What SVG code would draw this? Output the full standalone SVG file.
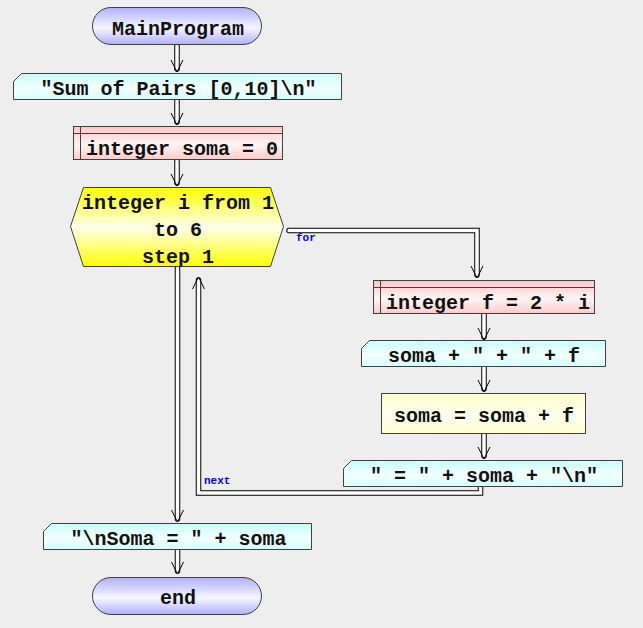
<svg xmlns="http://www.w3.org/2000/svg" width="643" height="628" viewBox="0 0 643 628">
<defs>
<linearGradient id="gTerm" x1="0" y1="0" x2="0" y2="1">
<stop offset="0" stop-color="#b0b0fa"/><stop offset="0.55" stop-color="#f6f6ff"/><stop offset="1" stop-color="#b0b0fa"/>
</linearGradient>
<linearGradient id="gOut" x1="0" y1="0" x2="0" y2="1">
<stop offset="0" stop-color="#c8ffff"/><stop offset="0.55" stop-color="#f2ffff"/><stop offset="1" stop-color="#d4ffff"/>
</linearGradient>
<linearGradient id="gDecl" x1="0" y1="0" x2="0" y2="1">
<stop offset="0" stop-color="#ffc4c4"/><stop offset="0.55" stop-color="#fff4f4"/><stop offset="1" stop-color="#ffcaca"/>
</linearGradient>
<linearGradient id="gProc" x1="0" y1="0" x2="0" y2="1">
<stop offset="0" stop-color="#ffffcc"/><stop offset="0.55" stop-color="#ffffec"/><stop offset="1" stop-color="#ffffd0"/>
</linearGradient>
<linearGradient id="gFor" x1="0" y1="0" x2="0" y2="1">
<stop offset="0" stop-color="#ffff00"/><stop offset="0.5" stop-color="#ffffec"/><stop offset="1" stop-color="#ffff00"/>
</linearGradient>
<marker id="ah" markerUnits="userSpaceOnUse" viewBox="-12 -8 18 16" markerWidth="18" markerHeight="16" refX="0" refY="0" orient="auto" overflow="visible">
<polyline points="-9,-6 3,0 -9,6" fill="none" stroke="#000" stroke-width="1"/>
</marker>
<style>
.sb{fill:none;stroke:#000;stroke-width:5.5;stroke-linecap:round;stroke-linejoin:miter}
.sw{fill:none;stroke:#fff;stroke-width:3.5;stroke-linecap:round;stroke-linejoin:miter}
.bd{stroke:#404040;stroke-width:1}
.t{font-family:"Liberation Mono","Courier New",monospace;font-weight:bold;font-size:20px;fill:#111;text-anchor:middle}
.lb{font-family:"Liberation Mono","Courier New",monospace;font-weight:bold;font-size:11px;fill:#0000ff}
</style>
</defs>
<rect width="643" height="628" fill="#eeeeee"/>
<g id="connectors">
<path class="sb" d="M177,46 V69"/><path class="sw" d="M177,46 V69" marker-end="url(#ah)"/>
<path class="sb" d="M177,101 V122"/><path class="sw" d="M177,101 V122" marker-end="url(#ah)"/>
<path class="sb" d="M177,161 V183"/><path class="sw" d="M177,161 V183" marker-end="url(#ah)"/>
<path class="sb" d="M177.5,268 V519"/><path class="sw" d="M177.5,268 V519" marker-end="url(#ah)"/>
<path class="sb" d="M177.5,550 V571"/><path class="sw" d="M177.5,550 V571" marker-end="url(#ah)"/>
<path class="sb" d="M289,230.5 H477 V275"/><path class="sw" d="M289,230.5 H477 V275" marker-end="url(#ah)"/>
<path class="sb" d="M484,314 V337"/><path class="sw" d="M484,314 V337" marker-end="url(#ah)"/>
<path class="sb" d="M484,367 V389"/><path class="sw" d="M484,367 V389" marker-end="url(#ah)"/>
<path class="sb" d="M484,434 V456"/><path class="sw" d="M484,434 V456" marker-end="url(#ah)"/>
<path class="sb" d="M480.5,487 V493 H198.5 V280"/><path class="sw" d="M480.5,487 V493 H198.5 V280" marker-end="url(#ah)"/>
<text class="lb" x="296" y="241">for</text>
<text class="lb" x="204" y="484">next</text>
</g>
<g id="start">
<rect class="bd" x="92.5" y="7.5" width="169" height="37" rx="18.5" fill="url(#gTerm)"/>
<text class="t" x="178" y="35">MainProgram</text>
</g>
<g id="out1">
<path class="bd" d="M13.5,81.5 L21.5,73.5 H341.5 V99.5 H13.5 Z" fill="url(#gOut)"/>
<text class="t" x="178.5" y="95">"Sum of Pairs [0,10]\n"</text>
</g>
<g id="decl1">
<rect class="bd" x="73.5" y="126.5" width="209" height="33" fill="url(#gDecl)"/>
<path class="bd" d="M73.5,133.5 H282.5 M80.5,126.5 V159.5" fill="none"/>
<text class="t" x="182" y="155">integer soma = 0</text>
</g>
<g id="for">
<polygon class="bd" points="70.5,226.5 83.5,187.5 270.5,187.5 283.5,226.5 270.5,266.5 83.5,266.5" fill="url(#gFor)"/>
<text class="t" x="178" y="209">integer i from 1</text>
<text class="t" x="178" y="236">to 6</text>
<text class="t" x="178" y="263">step 1</text>
</g>
<g id="decl2">
<rect class="bd" x="373.5" y="280.5" width="221" height="33" fill="url(#gDecl)"/>
<path class="bd" d="M373.5,287.5 H594.5 M380.5,280.5 V313.5" fill="none"/>
<text class="t" x="488" y="309">integer f = 2 * i</text>
</g>
<g id="out2">
<path class="bd" d="M361.5,348.5 L369.5,340.5 H605.5 V366.5 H361.5 Z" fill="url(#gOut)"/>
<text class="t" x="484" y="362">soma + " + " + f</text>
</g>
<g id="proc">
<rect class="bd" x="381.5" y="393.5" width="204" height="40" fill="url(#gProc)"/>
<text class="t" x="484" y="422">soma = soma + f</text>
</g>
<g id="out3">
<path class="bd" d="M343.5,468.5 L351.5,460.5 H622.5 V486.5 H343.5 Z" fill="url(#gOut)"/>
<text class="t" x="484" y="482">" = " + soma + "\n"</text>
</g>
<g id="out4">
<path class="bd" d="M43.5,531.5 L51.5,523.5 H311.5 V549.5 H43.5 Z" fill="url(#gOut)"/>
<text class="t" x="178.5" y="545">"\nSoma = " + soma</text>
</g>
<g id="end">
<rect class="bd" x="92.5" y="577.5" width="169" height="37" rx="18.5" fill="url(#gTerm)"/>
<text class="t" x="178" y="604">end</text>
</g>
</svg>
